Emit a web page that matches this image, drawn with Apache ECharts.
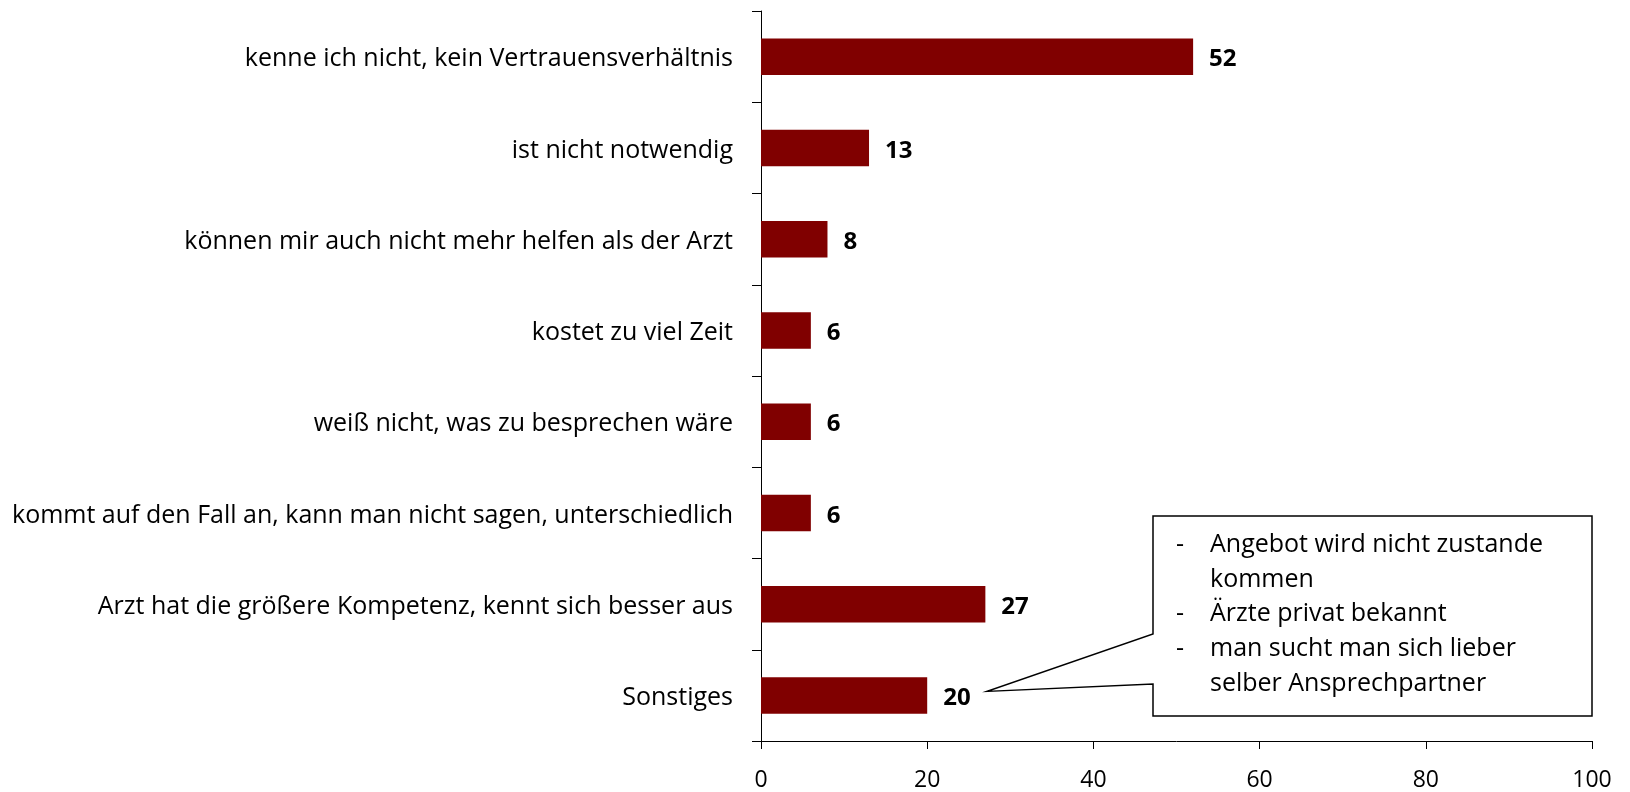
<!DOCTYPE html>
<html><head><meta charset="utf-8">
<script src="https://cdn.jsdelivr.net/npm/echarts@6/dist/echarts.min.js"></script>
<style>html,body{margin:0;padding:0;background:#fff}#c{width:1630px;height:792px}</style>
</head><body><div id="c"></div>
<script>
const categories = [
  'kenne ich nicht, kein Vertrauensverhältnis',
  'ist nicht notwendig',
  'können mir auch nicht mehr helfen als der Arzt',
  'kostet zu viel Zeit',
  'weiß nicht, was zu besprechen wäre',
  'kommt auf den Fall an, kann man nicht sagen, unterschiedlich',
  'Arzt hat die größere Kompetenz, kennt sich besser aus',
  'Sonstiges'
];
const values = [52, 13, 8, 6, 6, 6, 27, 20];
const xMin = 0, xMax = 100, xStep = 20;
const calloutDashes = ['-', '', '-', '-', ''];
const calloutLines = [
  'Angebot wird nicht zustande',
  'kommen',
  'Ärzte privat bekannt',
  'man sucht man sich lieber',
  'selber Ansprechpartner'
];
const calloutTarget = 'Sonstiges';

const FONT = "'Open Sans', sans-serif";
const chart = echarts.init(document.getElementById('c'), null, {renderer: 'canvas'});
chart.setOption({
  animation: false,
  backgroundColor: '#fff',
  grid: {left: 761, right: 38, top: 11, bottom: 50, containLabel: false},
  xAxis: {
    type: 'value', min: xMin, max: xMax, interval: xStep,
    splitLine: {show: false},
    axisLine: {show: true, lineStyle: {color: '#000', width: 1}},
    axisTick: {show: true, length: 8, lineStyle: {color: '#000'}},
    axisLabel: {color: '#000', fontFamily: FONT, fontSize: 23, margin: 28}
  },
  yAxis: {
    type: 'category', data: categories, inverse: true,
    axisLine: {show: true, lineStyle: {color: '#000', width: 1}},
    axisTick: {show: true, length: 9, lineStyle: {color: '#000'}},
    axisLabel: {color: '#000', fontFamily: FONT, fontSize: 25, margin: 28,
      formatter: v => '{t|' + v + '}',
      rich: {t: {color: '#000', fontFamily: FONT, fontSize: 25, padding: [5, 0, 0, 0]}}}
  },
  series: [{
    type: 'bar', data: values, barCategoryGap: '60%',
    itemStyle: {color: '#800000'},
    label: {show: true, position: 'right', distance: 16, color: '#000',
      fontFamily: FONT, fontSize: 24, fontWeight: 'bold', offset: [0, 3]}
  }]
});

// callout box pointing at the "Sonstiges" value label
const tgtIdx = categories.indexOf(calloutTarget);
const p = chart.convertToPixel({seriesIndex: 0}, [values[tgtIdx], calloutTarget]);
const tip = [p[0] + 60, p[1] - 4];
const bx0 = 1153, bx1 = 1592, by0 = 516, by1 = 716;
const elements = [{
  type: 'polygon', z: 100,
  shape: {points: [[bx0, by0], [bx1, by0], [bx1, by1], [bx0, by1], [bx0, 684], tip, [bx0, 634]]},
  style: {fill: '#fff', stroke: '#000', lineWidth: 1.5}
}];
calloutLines.forEach((t, i) => {
  const y = 545 + i * 34.6;
  if (calloutDashes[i]) elements.push({type: 'text', z: 101, x: 1176, y: y,
    style: {text: calloutDashes[i], fill: '#000', font: "25px 'Open Sans', sans-serif", textVerticalAlign: 'middle'}});
  elements.push({type: 'text', z: 101, x: 1210, y: y,
    style: {text: t, fill: '#000', font: "25px 'Open Sans', sans-serif", textVerticalAlign: 'middle'}});
});
chart.setOption({graphic: {elements: elements}});
</script></body></html>
